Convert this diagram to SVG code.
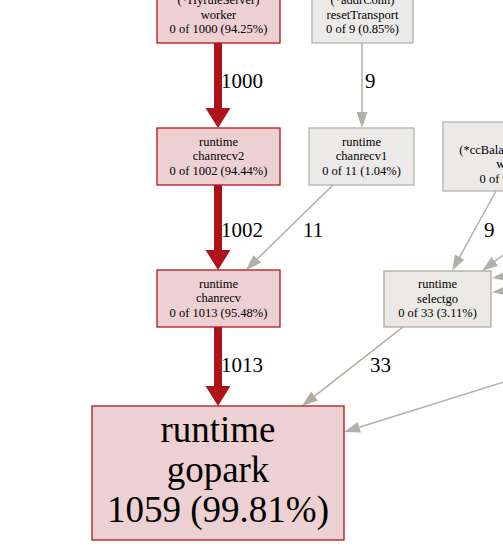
<svg xmlns="http://www.w3.org/2000/svg" width="503" height="552" viewBox="0 0 503 552">
<style>
.hot{fill:#edd0d2;stroke:#b2161b;stroke-width:1.3}
.cold{fill:#ebeae8;stroke:#b2b2b0;stroke-width:1.3}
.warm{fill:#ebe9e6;stroke:#b2a999;stroke-width:1.3}
.t{font-family:"Liberation Serif",serif;font-size:12.5px;fill:#000;text-anchor:middle}
.big{font-family:"Liberation Serif",serif;font-size:37px;fill:#000;text-anchor:middle}
.lbl{font-family:"Liberation Serif",serif;font-size:21px;fill:#000}
.er{stroke:#b0121a;stroke-width:8;fill:none}
.eg{stroke:#b2b0aa;stroke-width:1.5;fill:none}
.ew{stroke:#b2a999;stroke-width:1.5;fill:none}
</style>
<defs>
<marker id="ar" markerUnits="userSpaceOnUse" markerWidth="20" markerHeight="26" refX="0" refY="12.5" orient="auto" viewBox="0 0 20 25"><path d="M0,0 L20,12.5 L0,25 z" fill="#b0121a"/></marker>
<marker id="ag" markerUnits="userSpaceOnUse" markerWidth="16" markerHeight="11" refX="0" refY="5.5" orient="auto" viewBox="0 0 16 11"><path d="M0,0 L16,5.5 L0,11 z" fill="#b2b0aa"/></marker>
<marker id="aw" markerUnits="userSpaceOnUse" markerWidth="16" markerHeight="11" refX="0" refY="5.5" orient="auto" viewBox="0 0 16 11"><path d="M0,0 L16,5.5 L0,11 z" fill="#b2a999"/></marker>
</defs>
<rect width="503" height="552" fill="#fff"/>
<g id="connectors">
<line class="er" x1="218" y1="43" x2="218" y2="108" marker-end="url(#ar)"/>
<line class="er" x1="218" y1="185" x2="218" y2="250" marker-end="url(#ar)"/>
<line class="er" x1="218" y1="327" x2="218" y2="386" marker-end="url(#ar)"/>
<line class="eg" x1="362" y1="43" x2="362" y2="112" marker-end="url(#ag)"/>
<line class="eg" x1="333" y1="185" x2="257.4" y2="258.8" marker-end="url(#ag)"/>
<line class="eg" x1="496" y1="191" x2="459.7" y2="257" marker-end="url(#ag)"/>
<line class="ew" x1="403" y1="327" x2="314.6" y2="396.1" marker-end="url(#aw)"/>
<line class="eg" x1="512" y1="379.5" x2="359.3" y2="427.2" marker-end="url(#ag)"/>
<line class="eg" x1="515" y1="246" x2="494.8" y2="261.3" marker-end="url(#ag)"/>
<line class="eg" x1="530" y1="273" x2="507.7" y2="275.9" marker-end="url(#ag)"/>
<line class="eg" x1="530" y1="288" x2="507.9" y2="290.4" marker-end="url(#ag)"/>
<text class="lbl" x="221" y="88">1000</text>
<text class="lbl" x="365" y="88">9</text>
<text class="lbl" x="221" y="237">1002</text>
<text class="lbl" x="303" y="237">11</text>
<text class="lbl" x="484" y="237">9</text>
<text class="lbl" x="221" y="372">1013</text>
<text class="lbl" x="370" y="372">33</text>
</g>
<g id="worker">
<rect class="hot" x="157" y="-20" width="123" height="63"/>
<text class="t" x="218.5" y="4">(*HyruleServer)</text>
<text class="t" x="218.5" y="18.5">worker</text>
<text class="t" x="218.5" y="33">0 of 1000 (94.25%)</text>
</g>
<g id="resetTransport">
<rect class="cold" x="312" y="-20" width="101" height="63"/>
<text class="t" x="362.5" y="4">(*addrConn)</text>
<text class="t" x="362.5" y="18.5">resetTransport</text>
<text class="t" x="362.5" y="33">0 of 9 (0.85%)</text>
</g>
<g id="chanrecv2">
<rect class="hot" x="157" y="128" width="123" height="57"/>
<text class="t" x="218.5" y="145.5">runtime</text>
<text class="t" x="218.5" y="160">chanrecv2</text>
<text class="t" x="218.5" y="174.5">0 of 1002 (94.44%)</text>
</g>
<g id="chanrecv1">
<rect class="cold" x="309" y="128" width="105" height="57"/>
<text class="t" x="361.5" y="145.5">runtime</text>
<text class="t" x="361.5" y="160">chanrecv1</text>
<text class="t" x="361.5" y="174.5">0 of 11 (1.04%)</text>
</g>
<g id="watcher">
<rect class="cold" x="443" y="122" width="150" height="69"/>
<text class="t" x="516" y="153.5">(*ccBalancerWrapper)</text>
<text class="t" x="516" y="168">watcher</text>
<text class="t" x="516" y="182.5">0 of 9 (0.85%)</text>
</g>
<g id="chanrecv">
<rect class="hot" x="157" y="270" width="123" height="57"/>
<text class="t" x="218.5" y="287.5">runtime</text>
<text class="t" x="218.5" y="302">chanrecv</text>
<text class="t" x="218.5" y="316.5">0 of 1013 (95.48%)</text>
</g>
<g id="selectgo">
<rect class="warm" x="384" y="271" width="107" height="56"/>
<text class="t" x="437.5" y="288">runtime</text>
<text class="t" x="437.5" y="302.5">selectgo</text>
<text class="t" x="437.5" y="317">0 of 33 (3.11%)</text>
</g>
<g id="gopark">
<rect class="hot" x="92" y="406" width="252" height="134"/>
<text class="big" x="218" y="442">runtime</text>
<text class="big" x="218" y="482">gopark</text>
<text class="big" x="218" y="522">1059 (99.81%)</text>
</g>
</svg>
